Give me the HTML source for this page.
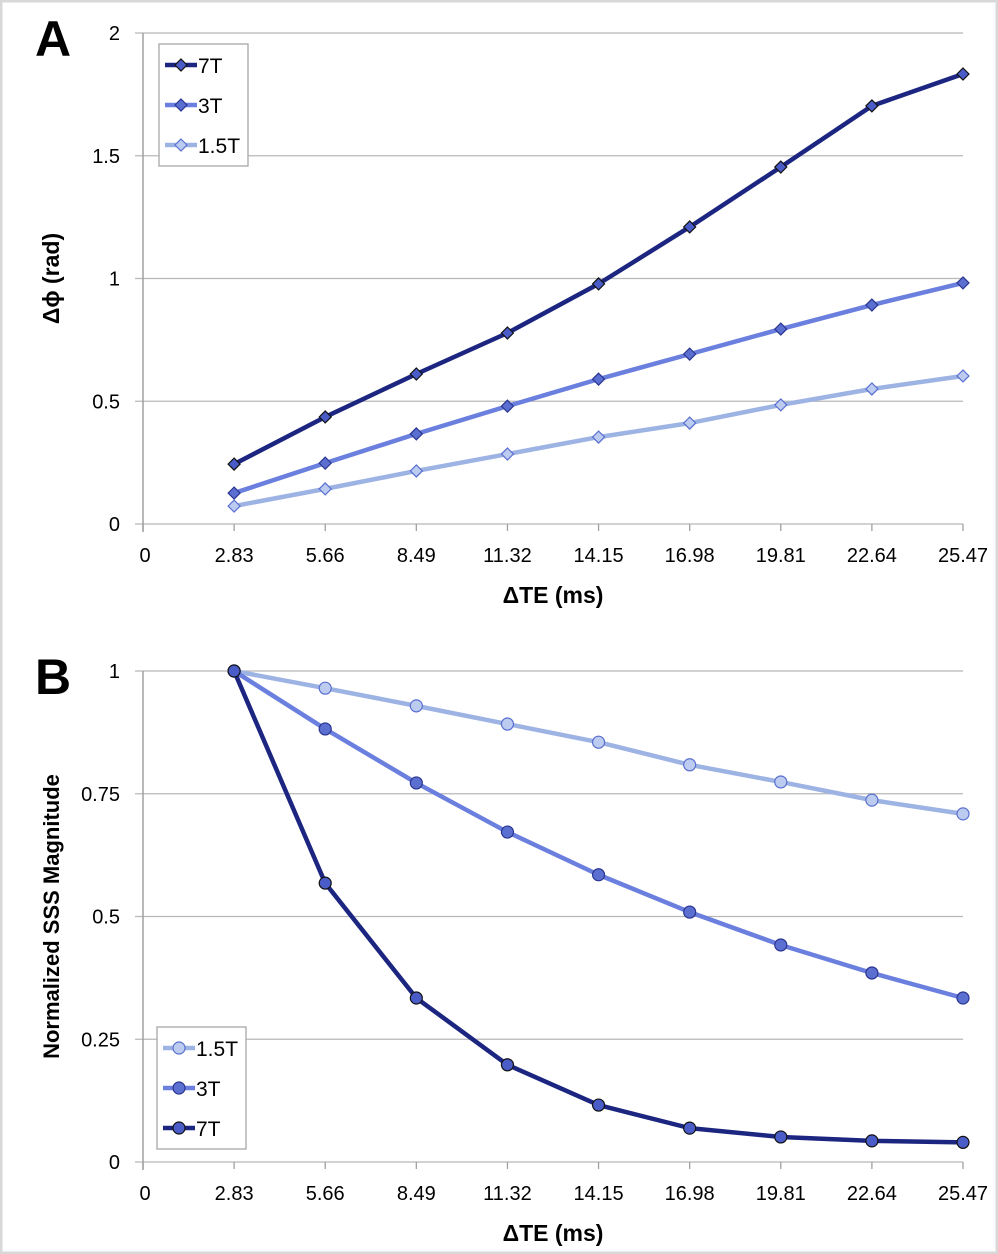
<!DOCTYPE html>
<html><head><meta charset="utf-8"><style>
body{margin:0;background:#fff;}
svg{display:block;font-family:"Liberation Sans",Arial,sans-serif;}
</style></head><body>
<svg id="fig" width="998" height="1254" viewBox="0 0 998 1254">
<rect x="1" y="1" width="996" height="1252" fill="#fff" stroke="#d8d8d8" stroke-width="3"/>
<g id="chartA"></g>
<g id="chartB"></g>
</svg>
<script>
const categories = [0, 2.83, 5.66, 8.49, 11.32, 14.15, 16.98, 19.81, 22.64, 25.47];
const xTickLabels = ["0","2.83","5.66","8.49","11.32","14.15","16.98","19.81","22.64","25.47"];
const seriesX = [2.83, 5.66, 8.49, 11.32, 14.15, 16.98, 19.81, 22.64, 25.47];
const phase7T = [0.244, 0.436, 0.611, 0.778, 0.978, 1.21, 1.454, 1.703, 1.833];
const phase3T = [0.126, 0.248, 0.367, 0.48, 0.59, 0.692, 0.794, 0.892, 0.982];
const phase15T = [0.073, 0.143, 0.216, 0.285, 0.354, 0.411, 0.485, 0.55, 0.603];
const mag15T = [1, 0.965, 0.929, 0.892, 0.855, 0.809, 0.774, 0.737, 0.709];
const mag3T = [1, 0.882, 0.772, 0.672, 0.585, 0.509, 0.442, 0.385, 0.334];
const mag7T = [1, 0.568, 0.334, 0.198, 0.116, 0.069, 0.051, 0.043, 0.04];
const yTicksA = [0, 0.5, 1, 1.5, 2];
const yTickLabelsA = ["0","0.5","1","1.5","2"];
const yTicksB = [0, 0.25, 0.5, 0.75, 1];
const yTickLabelsB = ["0","0.25","0.5","0.75","1"];

const NS = "http://www.w3.org/2000/svg";
const C7 = "#1c2680", C3 = "#6b7fdf", C15 = "#9db3e4";
function mk(tag, attrs, parent){const e=document.createElementNS(NS,tag);for(const k in attrs)e.setAttribute(k,attrs[k]);parent.appendChild(e);return e;}

function drawChart(g, cfg){
  const x0=143, x1=963, top=cfg.top, bot=cfg.bot;
  const xs = v => x0 + (v - 0) / 25.47 * (x1 - x0);
  const ys = v => bot - (v - 0) / cfg.ymax * (bot - top);
  cfg.yTicks.forEach((t,i)=>{
    const y=ys(t);
    const gl=mk("line",{x1:x0-8,x2:x1,y1:y,y2:y,stroke:"#b8b8b8","stroke-width":1.3},g);
    
    
    const tl=mk("text",{x:120,y:y+7,"text-anchor":"end","font-size":20,fill:"#000"},g);
    tl.textContent=cfg.yLabels[i];
    
    
  });
  const ax=mk("line",{x1:x0,x2:x0,y1:top,y2:bot+8,stroke:"#a0a0a0","stroke-width":1.5},g);
  
  
  categories.forEach((c,i)=>{
    const x=xs(c);
    const tk=mk("line",{x1:x,x2:x,y1:bot,y2:bot+7,stroke:"#a0a0a0","stroke-width":1.3},g);
    
    
    const tl=mk("text",{x:x+(i==0?2:0),y:bot+38,"text-anchor":"middle","font-size":20,fill:"#000"},g);
    tl.textContent=xTickLabels[i];
    
    
  });
  const xt=mk("text",{x:553,y:bot+79,"text-anchor":"middle","font-size":23,"font-weight":"bold"},g);
  xt.textContent="ΔTE (ms)";
  
  
  const cy=(top+bot)/2;
  const yt=mk("text",{x:0,y:0,"text-anchor":"middle","font-size":cfg.ytSize,"font-weight":"bold",transform:`translate(59,${cy}) rotate(-90)`},g);
  yt.textContent=cfg.yTitle;
  
  
  const pl=mk("text",{x:35,y:cfg.top+23,"font-size":50,"font-weight":"bold"},g);
  pl.textContent=cfg.letter;
  
  

  cfg.series.forEach(s=>{
    const pts=seriesX.map((v,i)=>xs(v)+","+ys(s.vals[i])).join(" ");
    const ln=mk("polyline",{points:pts,fill:"none",stroke:s.color,"stroke-width":4.5,"stroke-linejoin":"round"},g);
    
    
    seriesX.forEach((v,i)=>{
      const m=marker(g,cfg.shape,xs(v),ys(s.vals[i]),s);
      
      
    });
  });
  const L=cfg.legend;
  const lb=mk("rect",{x:L.x,y:L.y,width:89,height:122,fill:"#fff",stroke:"#a8a8a8","stroke-width":1.3},g);
  
  
  L.order.forEach((s,i)=>{
    const y=L.y+21+i*40;
    const ll=mk("line",{x1:L.x+6,x2:L.x+38,y1:y,y2:y,stroke:s.color,"stroke-width":4.5},g);
    
    
    const lm=marker(g,cfg.shape,L.x+22,y,s);
    
    
    const lt=mk("text",{x:L.x+39,y:y+8,"font-size":21},g);
    lt.textContent=s.label;
    
    
  });
}
function marker(g,shape,x,y,s){
  if(shape==="diamond"){
    return mk("polygon",{points:`${x},${y-6} ${x+6},${y} ${x},${y+6} ${x-6},${y}`,fill:s.fill,stroke:s.edge,"stroke-width":1.2},g);
  }
  return mk("circle",{cx:x,cy:y,r:6,fill:s.fill,stroke:s.edge,"stroke-width":1.2},g);
}
const sA7={key:"7t",label:"7T",vals:phase7T,color:C7,fill:"#4a5cc8",edge:"#111"};
const sA3={key:"3t",label:"3T",vals:phase3T,color:C3,fill:"#5a6fd0",edge:"#2a3590"};
const sA15={key:"1-5t",label:"1.5T",vals:phase15T,color:C15,fill:"#bccbf0",edge:"#5a6fd0"};
drawChart(document.getElementById("chartA"),{top:33,bot:524,ymax:2,yTicks:yTicksA,yLabels:yTickLabelsA,yTitle:"Δϕ (rad)",ytSize:23,letter:"A",shape:"diamond",
  series:[sA15,sA3,sA7],legend:{x:159,y:44,order:[sA7,sA3,sA15]}});
const sB7={key:"7t",label:"7T",vals:mag7T,color:C7,fill:"#4a5cc8",edge:"#111"};
const sB3={key:"3t",label:"3T",vals:mag3T,color:C3,fill:"#5a6fd0",edge:"#2a3590"};
const sB15={key:"1-5t",label:"1.5T",vals:mag15T,color:C15,fill:"#bccbf0",edge:"#5a6fd0"};
drawChart(document.getElementById("chartB"),{top:671,bot:1162,ymax:1,yTicks:yTicksB,yLabels:yTickLabelsB,yTitle:"Normalized SSS Magnitude",ytSize:22,letter:"B",shape:"circle",
  series:[sB15,sB3,sB7],legend:{x:157,y:1027,order:[sB15,sB3,sB7]}});
</script>
</body></html>
